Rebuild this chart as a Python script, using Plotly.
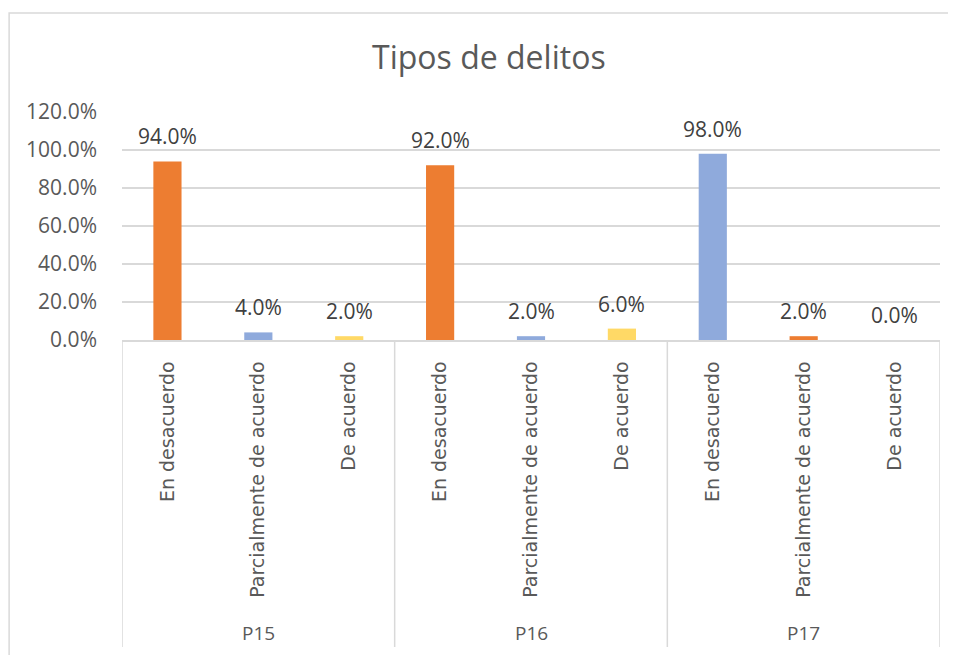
import plotly.graph_objects as go

# -----------------------------
# Data
# -----------------------------
groups = ["P15", "P16", "P17"]
answers = ["En desacuerdo", "Parcialmente de acuerdo", "De acuerdo"]
values = [
    [0.94, 0.04, 0.02],   # P15
    [0.92, 0.02, 0.06],   # P16
    [0.98, 0.02, 0.00],   # P17
]
bar_colors = [
    ["#ED7D31", "#8FAADC", "#FFD966"],
    ["#ED7D31", "#8FAADC", "#FFD966"],
    ["#8FAADC", "#ED7D31", "#FFD966"],
]
y_ticks = [0, 0.2, 0.4, 0.6, 0.8, 1.0, 1.2]

GRID = "#D9D9D9"
TEXT = "#595959"
FONT = "Open Sans"

# flatten to one position per bar
xs, ys, cols, labels = [], [], [], []
for gi, g in enumerate(groups):
    for ai, a in enumerate(answers):
        xs.append(gi * len(answers) + ai)
        ys.append(values[gi][ai])
        cols.append(bar_colors[gi][ai])
        labels.append(a)

fig = go.Figure()
fig.add_trace(go.Bar(
    x=xs, y=ys, width=0.31,
    marker=dict(color=cols, line=dict(width=0)),
    hovertemplate="%{y:.1%}<extra></extra>",
))

# data labels a bit above the bars (Excel "outside end")
for x, y in zip(xs, ys):
    fig.add_annotation(
        x=x, y=y, xref="x", yref="y", text=f"{y:.1%}", showarrow=False,
        yanchor="bottom", yshift=9,
        font=dict(family=FONT, size=21, color="#404040"),
    )

# group labels and dividers of the two-level category axis
n = len(answers)
for gi, g in enumerate(groups):
    fig.add_annotation(
        x=gi * n + (n - 1) / 2, y=-1.285, xref="x", yref="paper", text=g,
        yanchor="middle", showarrow=False,
        font=dict(family=FONT, size=19, color=TEXT),
    )
for gi in range(len(groups) + 1):
    fig.add_shape(
        type="line", xref="x", yref="paper",
        x0=gi * n - 0.5, x1=gi * n - 0.5, y0=0, y1=-1.346,
        line=dict(color=GRID, width=1.5),
    )

# outer chart border (right and bottom edges fall outside the picture)
fig.add_shape(
    type="rect", xref="paper", yref="paper",
    x0=-0.138, x1=1.1, y0=-1.6, y1=1.434,
    line=dict(color=GRID, width=1.5),
)

fig.update_layout(
    width=956, height=655,
    paper_bgcolor="white", plot_bgcolor="white",
    margin=dict(l=114, r=24, t=104, b=323),
    showlegend=False,
    title=dict(
        text="Tipos de delitos", x=0.503, xanchor="center",
        y=0.924, yanchor="middle",
        font=dict(family=FONT, size=32, color=TEXT),
    ),
    xaxis=dict(
        range=[-0.5, len(xs) - 0.5],
        tickmode="array", tickvals=xs, ticktext=labels, tickangle=-90,
        tickfont=dict(family="DejaVu Sans", size=19, color=TEXT),
        showgrid=False, showline=True, linecolor=GRID, linewidth=1.5,
        ticks="", zeroline=False, ticklabelstandoff=12,
    ),
    yaxis=dict(
        range=[0, 1.2], tickvals=y_ticks, tickformat=".1%",
        tickfont=dict(family=FONT, size=21, color=TEXT),
        showgrid=True, gridcolor=GRID, gridwidth=1.5,
        zeroline=False, showline=False, ticks="", ticklabelstandoff=24,
    ),
)

fig.write_html("out.html")
